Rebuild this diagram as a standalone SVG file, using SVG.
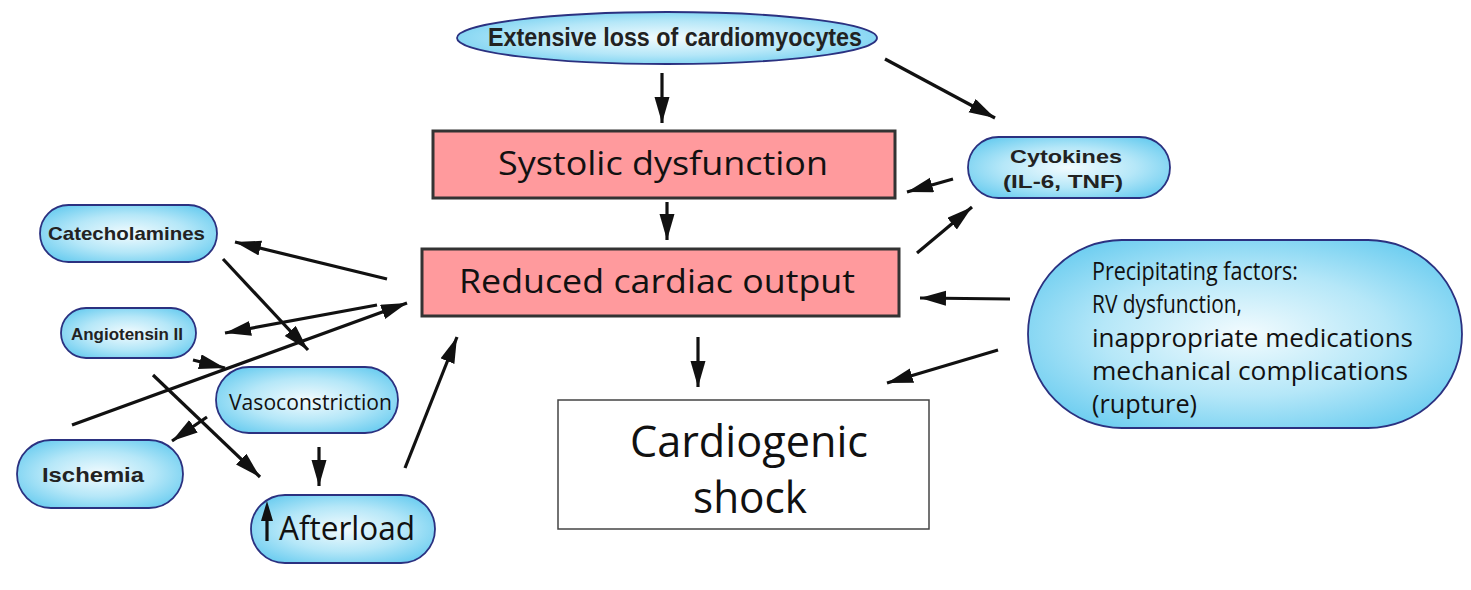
<svg xmlns="http://www.w3.org/2000/svg" width="1471" height="590" viewBox="0 0 1471 590">
<defs>
<radialGradient id="blue" cx="50%" cy="50%" r="60%">
<stop offset="0" stop-color="#f2fbfe"/>
<stop offset="0.55" stop-color="#b5e7f8"/>
<stop offset="1" stop-color="#6ccdf0"/>
</radialGradient>
<marker id="ah" markerUnits="userSpaceOnUse" markerWidth="28" markerHeight="16" refX="26" refY="7.5" orient="auto">
<path d="M0,0 L26,7.5 L0,15 Z" fill="#111"/>
</marker>
<style>
.pill{fill:url(#blue);stroke:#2b3180;stroke-width:1.8}
.pink{fill:#ff9a9d;stroke:#333;stroke-width:3}
.white{fill:#fff;stroke:#444;stroke-width:1.5}
.c{stroke:#111;stroke-width:3.2;fill:none;marker-end:url(#ah)}
.b{font-family:"Liberation Sans",Arial,sans-serif;font-weight:bold;fill:#222}
.r{font-family:"Open Sans","Noto Sans",sans-serif;fill:#111}
</style>
</defs>
<rect width="1471" height="590" fill="#fff"/>
<g id="n-loss">
<ellipse class="pill" cx="667" cy="38" rx="210" ry="26"/>
<text class="b" x="488" y="46" font-size="26" textLength="374" lengthAdjust="spacingAndGlyphs">Extensive loss of cardiomyocytes</text>
</g>
<g id="n-systolic">
<rect class="pink" x="433" y="131" width="462" height="67"/>
<text class="r" x="498" y="175" font-size="32" textLength="330" lengthAdjust="spacingAndGlyphs">Systolic dysfunction</text>
</g>
<g id="n-reduced">
<rect class="pink" x="422" y="249" width="477" height="67"/>
<text class="r" x="459" y="293" font-size="32" textLength="396" lengthAdjust="spacingAndGlyphs">Reduced cardiac output</text>
</g>
<g id="n-shock">
<rect class="white" x="558" y="400" width="371" height="129"/>
<text class="r" x="630" y="457" font-size="43" textLength="238" lengthAdjust="spacingAndGlyphs">Cardiogenic</text>
<text class="r" x="693" y="513" font-size="43" textLength="114" lengthAdjust="spacingAndGlyphs">shock</text>
</g>
<g id="n-cytokines">
<rect class="pill" x="968" y="137" width="202" height="61" rx="30.5"/>
<text class="b" x="1010" y="163" font-size="18" textLength="112" lengthAdjust="spacingAndGlyphs">Cytokines</text>
<text class="b" x="1003" y="188" font-size="18" textLength="120" lengthAdjust="spacingAndGlyphs">(IL-6, TNF)</text>
</g>
<g id="n-precip">
<rect class="pill" x="1028" y="240" width="434" height="188" rx="94"/>
<text class="r" font-size="25">
<tspan x="1092" y="280" textLength="206" lengthAdjust="spacingAndGlyphs">Precipitating factors:</tspan>
<tspan x="1092" y="313" textLength="150" lengthAdjust="spacingAndGlyphs">RV dysfunction,</tspan>
<tspan x="1092" y="347" textLength="321" lengthAdjust="spacingAndGlyphs">inappropriate medications</tspan>
<tspan x="1092" y="380" textLength="316" lengthAdjust="spacingAndGlyphs">mechanical complications</tspan>
<tspan x="1092" y="413" textLength="105" lengthAdjust="spacingAndGlyphs">(rupture)</tspan>
</text>
</g>
<g id="n-catecholamines">
<rect class="pill" x="40" y="205" width="177" height="57" rx="28.5"/>
<text class="b" x="48" y="240" font-size="19" textLength="157" lengthAdjust="spacingAndGlyphs">Catecholamines</text>
</g>
<g id="n-angiotensin">
<rect class="pill" x="61" y="308" width="135" height="50" rx="25"/>
<text class="b" x="71" y="340" font-size="16" textLength="112" lengthAdjust="spacingAndGlyphs">Angiotensin II</text>
</g>
<g id="n-vaso">
<rect class="pill" x="216" y="367" width="182" height="66" rx="33"/>
<text class="r" x="229" y="410" font-size="21" textLength="163" lengthAdjust="spacingAndGlyphs">Vasoconstriction</text>
</g>
<g id="n-ischemia">
<rect class="pill" x="17" y="440" width="166" height="68" rx="34"/>
<text class="b" x="42" y="482" font-size="20" textLength="102" lengthAdjust="spacingAndGlyphs">Ischemia</text>
</g>
<g id="n-afterload">
<rect class="pill" x="251" y="495" width="184" height="68" rx="34"/>
<line x1="267" y1="541" x2="267" y2="515" stroke="#111" stroke-width="3.2"/>
<path d="M261,521 L267,501 L273,521 Z" fill="#111"/>
<text class="r" x="279" y="540" font-size="33" textLength="136" lengthAdjust="spacingAndGlyphs">Afterload</text>
</g>
<g id="connectors">
<line class="c" x1="662" y1="73" x2="662" y2="123"/>
<line class="c" x1="885" y1="59" x2="995" y2="118"/>
<line class="c" x1="953" y1="179" x2="907" y2="192"/>
<line class="c" x1="667" y1="202" x2="667" y2="240"/>
<line class="c" x1="917" y1="253" x2="972" y2="207"/>
<line class="c" x1="1010" y1="299" x2="920" y2="298"/>
<line class="c" x1="998" y1="350" x2="887" y2="383"/>
<line class="c" x1="698" y1="337" x2="698" y2="387"/>
<line class="c" x1="387" y1="279" x2="235" y2="242"/>
<line class="c" x1="223" y1="259" x2="308" y2="350"/>
<line class="c" x1="377" y1="305" x2="225" y2="333"/>
<line class="c" x1="72" y1="425" x2="407" y2="303"/>
<line class="c" x1="193" y1="360" x2="225" y2="368"/>
<line class="c" x1="153" y1="375" x2="260" y2="477"/>
<line class="c" x1="207" y1="417" x2="172" y2="441"/>
<line class="c" x1="319" y1="447" x2="319" y2="486"/>
<line class="c" x1="405" y1="468" x2="457" y2="337"/>
</g>
</svg>
